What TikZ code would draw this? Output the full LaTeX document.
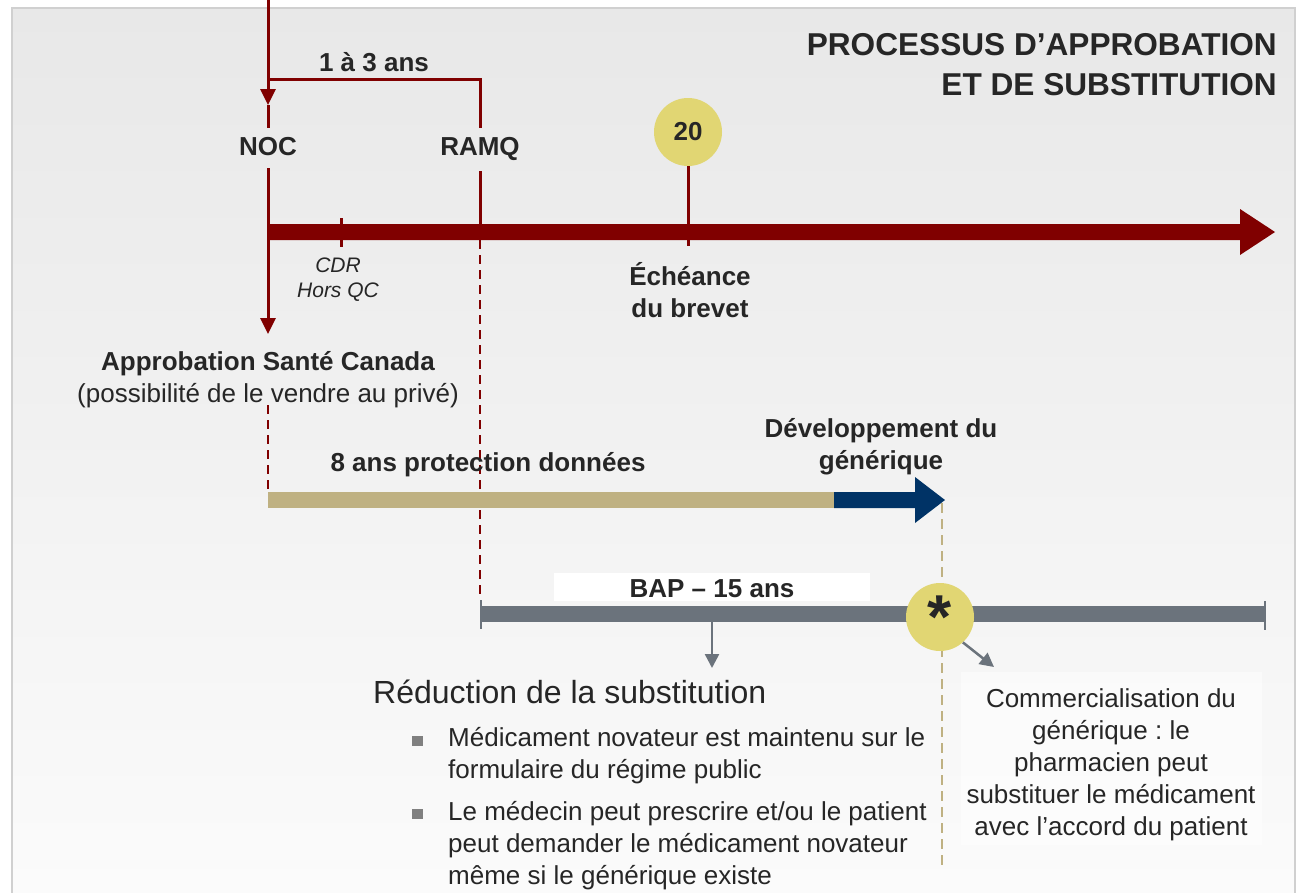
\documentclass[tikz,border=0pt]{standalone}
\usepackage{fontspec}
\setmainfont{Liberation Sans}
\usetikzlibrary{arrows.meta,shapes.geometric}

\definecolor{brick}{RGB}{128,0,0}
\definecolor{sand}{RGB}{191,177,130}
\definecolor{navy}{RGB}{0,51,102}
\definecolor{slate}{RGB}{107,115,124}
\definecolor{citron}{RGB}{225,214,115}
\definecolor{ink}{RGB}{38,38,38}
\definecolor{paneltop}{RGB}{232,232,232}
\definecolor{panelbot}{RGB}{251,251,251}
\definecolor{panelrim}{RGB}{208,208,208}
\definecolor{bulletgrey}{RGB}{128,128,128}

\tikzset{
  lbl/.style={font=\fontsize{26}{32}\selectfont\bfseries, text=ink, inner sep=0pt, align=center},
  plain/.style={font=\fontsize{26}{32}\selectfont, text=ink, inner sep=0pt},
  note/.style={font=\fontsize{21}{25}\selectfont\itshape, text=ink, inner sep=0pt, align=center},
  redline/.style={draw=brick, line width=3pt},
  reddash/.style={draw=brick, line width=2.5pt, dash pattern=on 9pt off 6pt},
  redarrow/.style={redline, -{Triangle[length=16pt,width=15pt]}},
  greyarrow/.style={draw=slate, line width=2.5pt, -{Triangle[length=14pt,width=14pt]}},
  badge/.style={circle, fill=citron, minimum size=68pt, inner sep=0pt, text=ink},
  sq/.style={fill=bulletgrey, minimum width=11pt, minimum height=10pt, inner sep=0pt},
}

\begin{document}
\frenchspacing
\begin{tikzpicture}[x=1pt,y=-1pt]
\useasboundingbox (0,0) rectangle (1301,892);

% panel
\shade[top color=paneltop, bottom color=panelbot] (12,8) rectangle (1295,892);
\draw[panelrim, line width=1.2pt] (12,8) rectangle (1295,895);

% title (base anchor = last line)
\node[font=\fontsize{31.6}{40}\selectfont\bfseries, text=ink, align=right, anchor=base east, inner sep=0pt]
  (title) at (1277,95) {PROCESSUS D’APPROBATION\\ET DE SUBSTITUTION};

% main timeline
\fill[brick] (268,224) -- (1240,224) -- (1240,209) -- (1275,232) -- (1240,255) -- (1240,240) -- (268,240) -- cycle;

% NOC / RAMQ
\node[lbl, anchor=base] (noc) at (268,155) {NOC};
\node[lbl, anchor=base] (ramq) at (480,155) {RAMQ};
\node[lbl, anchor=base] (span) at (374,71) {1 à 3 ans};

\coordinate (origin) at (268,0);
\coordinate (nocin) at (268,105);
\coordinate (split) at (268,79);
\draw[redarrow] (origin) -- (nocin);
\draw[redline] (nocin) -- ([yshift=9pt]noc.north);
\draw[redline] (split) -| ([yshift=9pt]ramq.north);

% approval
\coordinate (apptip) at (268,334);
\draw[redarrow] ([yshift=-13pt]noc.south) -- (apptip);
\node[lbl, anchor=base] (appro) at (268,370) {Approbation Santé Canada};
\node[plain, anchor=base] (priv) at (268,402) {(possibilité de le vendre au privé)};

% RAMQ drop
\coordinate (ramqbar) at (480,240);
\coordinate (bapstart) at (480,599);
\draw[redline] ([yshift=-11pt]ramq.south) -- (ramqbar);
\draw[reddash] (ramqbar) -- (bapstart);

% CDR tick
\coordinate (cdrtop) at (341,218);
\coordinate (cdrbot) at (341,247);
\draw[redline] (cdrtop) -- (cdrbot);
\node[note, anchor=base] (cdr) at (338,297) {CDR\\Hors QC};

% patent expiry
\node[badge, font=\fontsize{26}{28}\selectfont\bfseries] (twenty) at (688,132) {\raisebox{-2pt}{20}};
\coordinate (twentybar) at (688,246);
\draw[redline] (twenty.south) -- (twentybar);
\node[lbl, anchor=base] (brevet) at (690,317) {Échéance\\du brevet};

% data protection
\coordinate (noddash) at (268,405);
\coordinate (goldstart) at (268,492);
\draw[reddash] (noddash) -- (goldstart);
\fill[sand] (268,492) rectangle (834,508);
\fill[navy] (834,492) -- (915,492) -- (915,477) -- (945,500) -- (915,523) -- (915,508) -- (834,508) -- cycle;
\node[lbl, anchor=base] (data) at (488,471) {8 ans protection données};
\node[lbl, anchor=base] (devgen) at (881,469) {Développement du\\générique};

% generic entry guide
\coordinate (gentop) at (942,503);
\coordinate (genbot) at (942,869);
\draw[sand, line width=2.5pt, dash pattern=on 10pt off 6pt] (gentop) -- (genbot);

% BAP
\fill[white] (554,573) rectangle (870,601);
\node[lbl, anchor=base] (bap) at (712,597) {BAP – 15 ans};
\fill[slate] (481,606) rectangle (1265,622);
\draw[slate, line width=2.5pt] (481,600) -- (481,629);
\draw[slate, line width=2.5pt] (1265,601) -- (1265,630);
\node[badge, font=\fontsize{62}{64}\selectfont\bfseries] (star) at (940,617) {\raisebox{-0.24em}{*}};

% reduction of substitution
\coordinate (bapmid) at (712,622);
\coordinate (reductip) at (712,668);
\draw[greyarrow] (bapmid) -- (reductip);
\node[font=\fontsize{32}{38}\selectfont, text=ink, anchor=base west, inner sep=0pt] (reduc) at (373,703) {Réduction de la substitution};
\node[sq] (b1) at (417,741) {};
\node[plain, anchor=base west, align=left] (t1) at (448,778) {Médicament novateur est maintenu sur le\\formulaire du régime public};
\node[sq] (b2) at (417,814) {};
\node[plain, anchor=base west, align=left] (t2) at (448,884) {Le médecin peut prescrire et/ou le patient\\peut demander le médicament novateur\\même si le générique existe};

% commercialisation
\fill[white, opacity=0.55] (961,672) rectangle (1262,845);
\coordinate (commtip) at (994,667);
\draw[greyarrow] (star.-48) -- (commtip);
\node[plain, anchor=base, align=center] (comm) at (1111,835) {Commercialisation du\\générique : le\\pharmacien peut\\substituer le médicament\\avec l’accord du patient};
\end{tikzpicture}
\end{document}
